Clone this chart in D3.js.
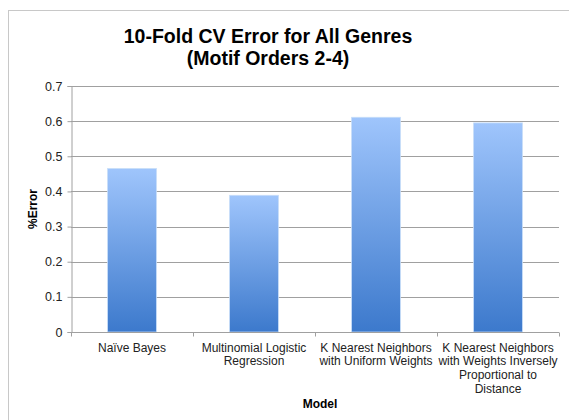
<!DOCTYPE html>
<html>
<head>
<meta charset="utf-8">
<script src="https://cdn.jsdelivr.net/npm/d3@7"></script>
<style>
    body { margin: 0; background: #fff; }
    text { font-family: "Liberation Sans", Arial, sans-serif; }
</style>
</head>
<body>
<div id="chart"></div>
<script>
// chart data
const models = [
    ["Naïve Bayes"],
    ["Multinomial Logistic", "Regression"],
    ["K Nearest Neighbors", "with Uniform Weights"],
    ["K Nearest Neighbors", "with Weights Inversely", "Proportional to", "Distance"]
];
const errors = [0.465, 0.389, 0.611, 0.595];
const yTicks = [0, 0.1, 0.2, 0.3, 0.4, 0.5, 0.6, 0.7];
const titleLines = ["10-Fold CV Error for All Genres", "(Motif Orders 2-4)"];

const W = 569, H = 420;
const margin = {top: 86, right: 10, bottom: 88, left: 71};
const width = W - margin.left - margin.right;
const height = H - margin.top - margin.bottom;

const root = d3.select("#chart").append("svg")
    .attr("width", W)
    .attr("height", H);

// outer frame
root.append("rect")
    .attr("x", 8.5).attr("y", 10.5)
    .attr("width", W).attr("height", H)
    .attr("fill", "none")
    .attr("stroke", "#c8c8c8");

const defs = root.append("defs");
const grad = defs.append("linearGradient")
    .attr("id", "barGrad")
    .attr("x1", 0).attr("y1", 0).attr("x2", 0).attr("y2", 1);
grad.append("stop").attr("offset", "0%").attr("stop-color", "#9fc5fc");
grad.append("stop").attr("offset", "100%").attr("stop-color", "#3c79cc");

// title
root.append("g").selectAll("text")
    .data(titleLines)
    .join("text")
    .attr("x", 268)
    .attr("y", (d, i) => 43 + i * 22)
    .attr("text-anchor", "middle")
    .attr("font-size", 19.5)
    .attr("font-weight", "bold")
    .text(d => d);

const svg = root.append("g")
    .attr("transform", `translate(${margin.left}, ${margin.top})`);

const x = d3.scaleBand()
    .domain(d3.range(models.length))
    .range([0, width])
    .paddingInner(0.6)
    .paddingOuter(0.3);

const y = d3.scaleLinear()
    .domain([0, 0.7])
    .range([height, 0]);

// gridlines
svg.append("g")
    .selectAll("line")
    .data(yTicks.slice(1))
    .join("line")
    .attr("x1", 0).attr("x2", width)
    .attr("y1", d => Math.round(y(d)) + 0.5)
    .attr("y2", d => Math.round(y(d)) + 0.5)
    .attr("stroke", "#a0a0a0");

// y axis
const yAxis = d3.axisLeft(y)
    .tickValues(yTicks)
    .tickSize(4)
    .tickFormat(d => d === 0 ? "0" : d3.format(".1f")(d));

svg.append("g")
    .attr("class", "y-axis")
    .attr("transform", "translate(0.5,0)")
    .call(yAxis)
    .call(g => g.selectAll("line, path").attr("stroke", "#a0a0a0"))
    .call(g => g.selectAll("text")
        .attr("font-size", 12.5)
        .attr("fill", "#222")
        .attr("font-family", "Liberation Sans, Arial, sans-serif")
        .attr("x", -9));

// bars
svg.selectAll(".bar")
    .data(errors)
    .join("rect")
    .attr("class", "bar")
    .attr("x", (d, i) => x(i))
    .attr("y", d => y(d))
    .attr("width", x.bandwidth())
    .attr("height", d => height - y(d))
    .attr("fill", "url(#barGrad)")
    .attr("stroke", "#c6dcf8")
    .attr("stroke-width", 0.8);

// x axis baseline and category boundary ticks
const xg = svg.append("g").attr("transform", `translate(0,${Math.round(height) + 0.5})`);
xg.append("line")
    .attr("x1", 0).attr("x2", width)
    .attr("stroke", "#a0a0a0");
xg.selectAll(".xtick")
    .data(d3.range(models.length + 1))
    .join("line")
    .attr("class", "xtick")
    .attr("x1", i => Math.round(i * x.step()) + 0.5)
    .attr("x2", i => Math.round(i * x.step()) + 0.5)
    .attr("y1", 0).attr("y2", 4)
    .attr("stroke", "#a0a0a0");

// category labels
xg.selectAll(".xlabel")
    .data(models)
    .join("text")
    .attr("class", "xlabel")
    .attr("text-anchor", "middle")
    .attr("font-size", 12)
    .attr("fill", "#222")
    .attr("transform", (d, i) => `translate(${x(i) + x.bandwidth() / 2},0)`)
    .selectAll("tspan")
    .data(d => d)
    .join("tspan")
    .attr("x", 0)
    .attr("y", (d, i) => 19 + i * 13.7)
    .text(d => d);

// axis titles
root.append("text")
    .attr("x", margin.left + width / 2 + 5)
    .attr("y", 408)
    .attr("text-anchor", "middle")
    .attr("font-size", 12)
    .attr("font-weight", "bold")
    .text("Model");

root.append("text")
    .attr("transform", `translate(37, ${margin.top + height / 2}) rotate(-90)`)
    .attr("text-anchor", "middle")
    .attr("font-size", 12)
    .attr("font-weight", "bold")
    .text("%Error");
</script>
</body>
</html>
